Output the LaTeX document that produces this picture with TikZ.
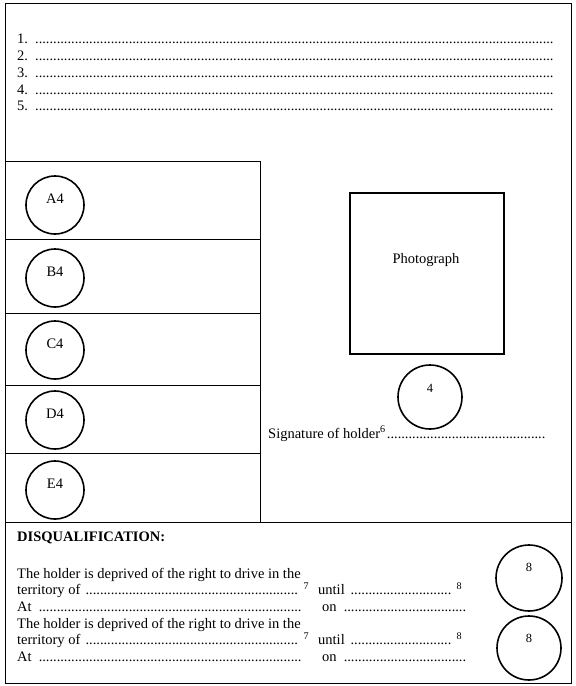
\documentclass[tikz,border=0pt]{standalone}
\usepackage{fontspec}
\setmainfont{Liberation Serif}
\usetikzlibrary{positioning}
\tikzstyle{frame}=[line width=.8pt]
\tikzstyle{seal}=[circle,draw,line width=1.6pt,minimum size=58pt,inner sep=0pt]
\tikzstyle{txt}=[anchor=base west,inner sep=0pt,font=\fontsize{14.5}{16}\selectfont]
\tikzstyle{lbl}=[inner sep=0pt,font=\fontsize{14.5}{16}\selectfont]
\tikzstyle{num}=[inner sep=0pt,font=\fontsize{12.5}{14}\selectfont]
\newcommand\dotsfill{\leaders\hbox to 3.6pt{\hss.\hss}\hfill}
\newcommand\dotline[2]{\hbox to #1{#2\dotsfill}}

\begin{document}
\begin{tikzpicture}[x=1pt,y=-1pt]
\useasboundingbox (0,0) rectangle (576,686);
% frame of the page
\draw[frame] (5,3) rectangle (571,683);
\draw[frame] (5,522) -- (571,522);
\draw[frame] (5,161) -- (260,161) -- (260,522);
\foreach \y in {239,313,385,453} \draw[frame] (5,\y) -- (260,\y);
% numbered lines
\foreach \i/\y in {1/43,2/60,3/77,4/94,5/110}
  \node[txt] (line\i) at (17,\y) {\dotline{538pt}{\i.\hspace{6pt}}};
% categories
\foreach \n/\y in {A4/205,B4/278,C4/350,D4/420,E4/490} {
  \node[seal] (\n) at (55,\y) {};
  \node[lbl] (\n-t) at ([yshift=6pt]\n.center) {\n};
}
% photograph and signature
\node[draw,line width=1.4pt,minimum width=154pt,minimum height=161pt,inner sep=0pt] (photo) at (427,273.5) {};
\node[lbl] (photo-t) at (426,260) {Photograph};
\node[seal,minimum size=64pt] (s4) at (430,397) {};
\node[num] (s4-t) at ([yshift=9pt]s4.center) {4};
\node[txt] (sig) at (268,438) {\dotline{280pt}{Signature of holder\textsuperscript{6}}};
% disqualification
\node[txt,font=\fontsize{14.5}{16}\selectfont\bfseries] (dq) at (17,541) {DISQUALIFICATION:};
\foreach \i/\y in {1/578,2/628} {
  \node[txt] (hold\i) at (17,\y) {The holder is deprived of the right to drive in the};
  \node[txt] (terr\i) at (17,{\y+16.5}) {\dotline{284pt}{territory of }\,\textsuperscript{7}};
  \node[txt] (until\i) at (318,{\y+16.5}) {\dotline{136pt}{until }\,\textsuperscript{8}};
  \node[txt] (at\i) at (17,{\y+33}) {\dotline{288pt}{At }};
  \node[txt] (on\i) at (322,{\y+33}) {\dotline{145pt}{on }};
}
\node[seal,minimum size=66pt] (s8a) at (529,578) {};
\node[num] (s8a-t) at ([yshift=11pt]s8a.center) {8};
\node[seal,minimum size=64pt] (s8b) at (529,648) {};
\node[num] (s8b-t) at ([yshift=10pt]s8b.center) {8};
\end{tikzpicture}
\end{document}
